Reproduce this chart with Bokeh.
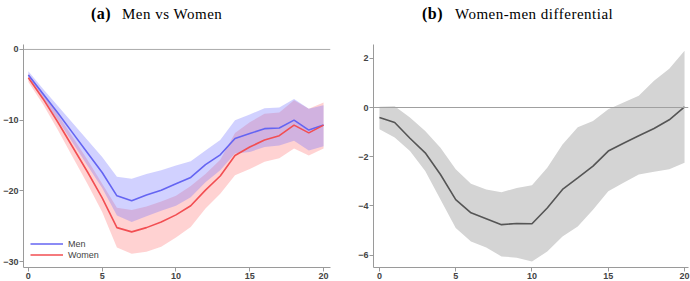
from bokeh.plotting import figure
from bokeh.layouts import row, column
from bokeh.models import Span, Legend, LegendItem, Range1d, FixedTicker, Div
from bokeh.embed import file_html
from bokeh.resources import INLINE

# ---------------- data ----------------
horizon = list(range(21))

men = [-3.6, -6.3, -9.0, -11.8, -14.6, -17.4, -20.7, -21.4, -20.6, -19.9, -19.0,
       -18.1, -16.3, -14.9, -12.6, -11.9, -11.2, -11.1, -10.0, -11.4, -10.7]
men_hi = [-3.1, -5.6, -8.0, -10.4, -12.8, -15.2, -18.0, -18.3, -17.6, -17.1, -16.4,
          -15.8, -14.3, -12.8, -10.0, -9.2, -8.3, -8.2, -7.0, -8.4, -7.9]
men_lo = [-4.1, -7.0, -10.0, -13.2, -16.4, -19.6, -23.5, -24.4, -23.6, -22.8, -22.1,
          -20.9, -18.8, -17.1, -14.7, -14.5, -13.8, -13.6, -12.9, -14.3, -13.7]

women = [-4.0, -7.0, -10.3, -13.8, -17.3, -21.0, -25.2, -25.8, -25.2, -24.4, -23.4,
         -22.1, -19.9, -17.9, -15.0, -13.8, -12.8, -12.2, -10.7, -11.8, -10.7]
women_hi = [-3.4, -6.2, -9.2, -12.4, -15.6, -19.0, -22.4, -22.7, -22.2, -21.5, -20.7,
            -19.3, -17.6, -15.6, -11.8, -10.3, -9.1, -8.9, -7.2, -8.4, -7.5]
women_lo = [-4.6, -7.8, -11.4, -15.2, -19.0, -23.0, -28.0, -28.9, -28.6, -27.9, -26.6,
            -25.1, -22.5, -20.4, -17.8, -16.9, -15.9, -15.4, -14.0, -15.0, -14.0]

diff = [-0.41, -0.61, -1.25, -1.84, -2.72, -3.74, -4.28, -4.52, -4.76, -4.71, -4.72,
        -4.08, -3.33, -2.86, -2.38, -1.77, -1.45, -1.15, -0.85, -0.50, 0.03]
diff_hi = [0.03, 0.05, -0.41, -0.95, -1.63, -2.51, -3.10, -3.33, -3.44, -3.27, -3.16,
           -2.45, -1.50, -0.80, -0.55, -0.07, 0.20, 0.48, 1.09, 1.57, 2.31]
diff_lo = [-0.88, -1.22, -1.77, -2.58, -3.74, -4.90, -5.44, -5.69, -6.05, -6.10, -6.26,
           -5.85, -5.24, -4.83, -4.15, -3.40, -3.06, -2.72, -2.61, -2.51, -2.24]

x_ticks = [0, 5, 10, 15, 20]
left_y_ticks = [0, -10, -20, -30]
right_y_ticks = [2, 0, -2, -4, -6]

titles = [("(a)", "Men vs Women"), ("(b)", "Women-men differential")]
series_names = ["Men", "Women"]

AXIS_COLOR = "#9a9a9a"
LABEL_COLOR = "#444444"


def style(p, yticks):
    p.xaxis.ticker = FixedTicker(ticks=x_ticks)
    p.yaxis.ticker = FixedTicker(ticks=yticks)
    for ax in (p.xaxis[0], p.yaxis[0]):
        ax.axis_line_color = AXIS_COLOR
        ax.major_tick_line_color = AXIS_COLOR
        ax.minor_tick_line_color = None
        ax.major_tick_out = 4
        ax.major_tick_in = 0
        ax.major_label_standoff = 1
        ax.major_label_text_font = "Liberation Sans"
        ax.major_label_text_font_size = "9px"
        ax.major_label_text_font_style = "bold"
        ax.major_label_text_color = LABEL_COLOR
    p.xaxis.major_label_standoff = 1
    p.xgrid.grid_line_color = None
    p.ygrid.grid_line_color = None
    p.outline_line_color = None
    p.background_fill_color = "white"
    p.border_fill_color = "white"


def title_div(tag, text, left, tag_w):
    html = ('<div style="position:relative;white-space:nowrap;'
            'font-family:\'Liberation Serif\';font-size:15px;line-height:17px;'
            'letter-spacing:0.5px;color:black;padding-top:5px;padding-left:%dpx">'
            '<span style="display:inline-block;width:%dpx;font-weight:bold;font-size:16px">%s</span>'
            '<span>%s</span></div>') % (left, tag_w, tag, text)
    return Div(text=html, width=345, height=44, margin=(0, 0, 0, 0))


# ---------------- left panel ----------------
pa = figure(width=345, height=237, output_backend="svg", toolbar_location=None,
            x_range=Range1d(-0.33, 20.47), y_range=Range1d(-30.84, 0.7),
            min_border_left=18, min_border_right=15, min_border_top=0,
            min_border_bottom=14)
style(pa, left_y_ticks)

pa.add_layout(Span(location=0, dimension="width", line_color="#aaaaaa", line_width=1))

pa.varea(x=horizon, y1=women_lo, y2=women_hi, fill_color="#ff6a6a", fill_alpha=0.30)
pa.varea(x=horizon, y1=men_lo, y2=men_hi, fill_color="#7070ff", fill_alpha=0.32)
r_men = pa.line(horizon, men, line_color="#6464f2", line_width=1.6)
r_women = pa.line(horizon, women, line_color="#f24e52", line_width=1.6)

leg = Legend(items=[LegendItem(label=series_names[0], renderers=[r_men]),
                    LegendItem(label=series_names[1], renderers=[r_women])],
             location=(7, 7), padding=0, margin=0, spacing=0,
             glyph_width=33, glyph_height=11, label_height=11, label_standoff=5,
             label_text_font="Liberation Sans", label_text_font_size="9px",
             label_text_color=LABEL_COLOR, border_line_color=None,
             background_fill_alpha=0)
pa.add_layout(leg)

# ---------------- right panel ----------------
pb = figure(width=345, height=237, output_backend="svg", toolbar_location=None,
            x_range=Range1d(-0.39, 20.26), y_range=Range1d(-6.5, 2.56),
            min_border_left=28, min_border_right=2, min_border_top=0,
            min_border_bottom=14)
style(pb, right_y_ticks)

pb.varea(x=horizon, y1=diff_lo, y2=diff_hi, fill_color="#d4d4d4", fill_alpha=1.0)
pb.line(horizon, diff, line_color="#555555", line_width=1.6)
pb.add_layout(Span(location=0, dimension="width", line_color="#a0a0a0", line_width=1))

head = row(title_div(titles[0][0], titles[0][1], 91, 31),
           title_div(titles[1][0], titles[1][1], 77, 33))
layout = column(head, row(pa, pb))
open("out.html", "w").write(file_html(layout, INLINE))
